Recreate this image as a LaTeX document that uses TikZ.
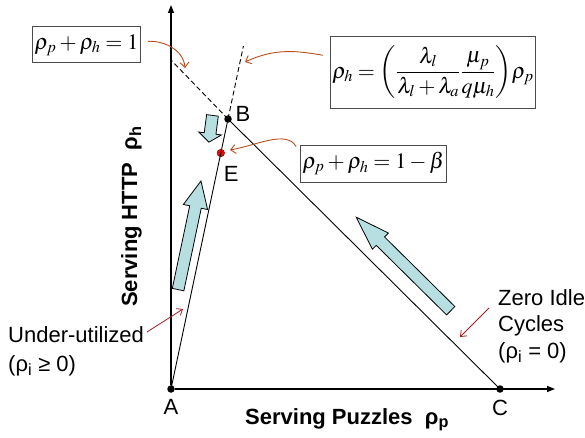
\documentclass[tikz,border=0pt]{standalone}
\usepackage{amsmath}
\usepackage{mathptmx}
\usepackage[no-math]{fontspec}
\setmainfont{Liberation Sans}
\usepackage{tikz}
\usetikzlibrary{arrows.meta,positioning,calc,shapes.arrows}
\definecolor{flowfill}{RGB}{183,223,226}
\definecolor{curvecol}{RGB}{184,78,28}
\definecolor{pointcol}{RGB}{160,32,32}

\begin{document}
\begin{tikzpicture}[x=1pt,y=1pt,font=\fontsize{22}{27}\selectfont,
  axis/.style={line width=1.4pt,-{Triangle[length=8pt,width=6pt]}},
  edge/.style={line width=0.9pt},
  guide/.style={line width=0.9pt,dashed,dash pattern=on 5pt off 3pt},
  dot/.style={circle,fill=black,inner sep=0pt,minimum size=7.5pt},
  lbl/.style={inner sep=0pt},
  eqbox/.style={draw=black!70,line width=1pt,inner sep=2pt},
  curvearrow/.style={curvecol,line width=0.9pt,-{Straight Barb[length=5pt,width=9pt]}},
  pointarrow/.style={pointcol,line width=0.8pt,-{Straight Barb[length=5pt,width=8pt]}},
  fatarrow/.style={single arrow,draw=black,fill=flowfill,line width=0.8pt,
    inner xsep=0pt,inner ysep=5.5pt,anchor=tail}]
\useasboundingbox (-171,-48) rectangle (414,389);

% corner points
\node[dot] (A) at (0,0) {};
\node[dot] (C) at (329,0) {};
\node[dot] (B) at (57,270) {};
\node[dot,fill=red,draw=red!55!black,line width=0.5pt] (E) at ($(A)!0.874!(B)$) {};
\coordinate (ytop) at (0,384);
\coordinate (xtop) at (384,0);
\coordinate (sumend) at (0,329);
\coordinate (rateend) at ($(A)!1.27!(B)$);

% axes and lines
\draw[axis] (A) -- (ytop);
\draw[axis] (A) -- (xtop);
\draw[edge] (A.center) -- (B.center) -- (C.center);
\draw[guide] (B.center) -- (sumend);
\draw[guide] (B.center) -- (rateend);

\node[lbl,below=6.5pt of A] {A};
\node[lbl,below=6.5pt of C] {C};
\node[lbl,right=3.5pt of B,yshift=5.5pt] {B};
\node[lbl,below right=10.5pt and 0pt of E] {E};

% axis labels
\node[lbl,anchor=base west] (xlab) at (74,-35) {\bfseries Serving Puzzles\ \ ρ\textsubscript{p}};
\node[lbl,rotate=90,anchor=base west] (ylab) at (-34,82) {\bfseries Serving HTTP\ \ ρ\textsubscript{h}};

% fat arrows
\node[fatarrow,minimum height=27pt,rotate=262.6,single arrow head extend=5.5pt,
  single arrow tip angle=105] (down) at (41.5,274) {};
\node[fatarrow,minimum height=111pt,rotate=78.1,single arrow head extend=6.5pt,
  single arrow tip angle=50] (up) at (7,99) {};
\node[fatarrow,minimum height=133pt,rotate=135.3,single arrow head extend=5.5pt,
  single arrow tip angle=37] (back) at (280,78) {};

% equations
\node[eqbox,minimum width=107pt,minimum height=36pt] (sum) at (-84.5,344)
  {$\rho_p+\rho_h=1$};
\node[eqbox,minimum width=202pt,minimum height=71pt] (rate) at (262,316.5)
  {$\rho_h=\left(\dfrac{\lambda_l}{\lambda_l+\lambda_a}\dfrac{\mu_p}{q\mu_h}\right)\!\rho_p$};
\node[eqbox,minimum width=141pt,minimum height=37pt] (beta) at (202.5,225.5)
  {$\rho_p+\rho_h=1-\beta$};

\coordinate (sumtip) at (14,321);
\coordinate (ratetip) at (74,327);
\coordinate (betatip) at (59,239);
\draw[curvearrow,shorten <=7pt] ([yshift=3pt]sum.east) to[out=5,in=95] (sumtip);
\draw[curvearrow,shorten <=7pt] ([yshift=16pt]rate.west) to[out=170,in=25] (ratetip);
\draw[curvearrow,shorten <=8pt] ([yshift=10pt]beta.west) to[out=120,in=10] (betatip);

% side notes
\node[lbl,anchor=base west,align=left,font=\fontsize{22}{29}\selectfont] (under) at (-163,18)
  {Under-utilized\\(ρ\textsubscript{i} ≥ 0)};
\node[lbl,anchor=base west,align=left,font=\fontsize{22}{26.5}\selectfont] (zero) at (327,31)
  {Zero Idle\\Cycles\\(ρ\textsubscript{i} = 0)};
\coordinate (undertip) at (12,80);
\coordinate (zerotip) at (289,52);
\draw[pointarrow] (-24,57) -- (undertip);
\draw[pointarrow] (318,81) -- (zerotip);
\end{tikzpicture}
\end{document}
